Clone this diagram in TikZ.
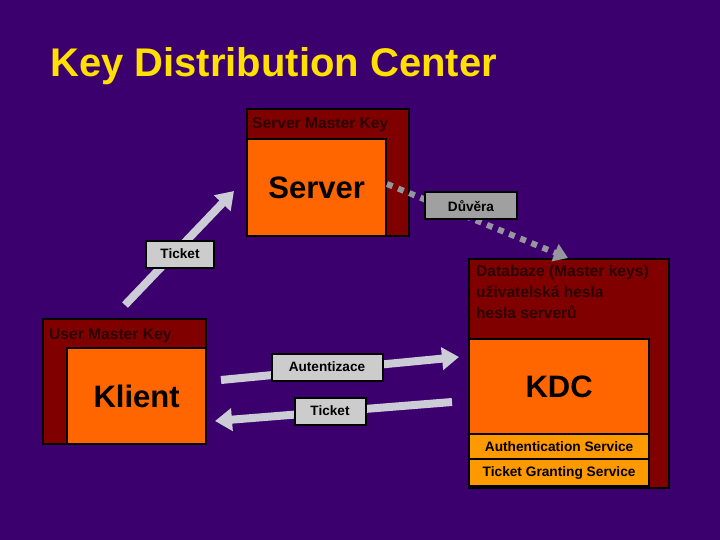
\documentclass[tikz,border=0pt]{standalone}
\usepackage{fontspec}
\setmainfont{Liberation Sans}
\usetikzlibrary{arrows.meta}
\definecolor{bgpurple}{RGB}{60,0,110}
\definecolor{keyred}{RGB}{128,0,0}
\definecolor{boxorange}{RGB}{255,102,0}
\definecolor{svcorange}{RGB}{255,153,0}
\definecolor{titleyellow}{RGB}{255,224,0}
\definecolor{keytext}{RGB}{45,0,0}
\definecolor{lightgray}{RGB}{204,204,204}
\definecolor{midgray}{RGB}{160,160,160}
\definecolor{arrowgray}{RGB}{204,204,214}
\definecolor{dotgray}{RGB}{150,150,158}
\tikzset{
  keybox/.style={draw=black, line width=2.2pt, fill=keyred, anchor=north west, inner sep=0pt},
  corebox/.style={draw=black, line width=2.2pt, fill=boxorange, anchor=north west, inner sep=0pt, font=\fontsize{31}{36}\selectfont\bfseries},
  svcbox/.style={draw=black, line width=2.2pt, fill=svcorange, anchor=north west, inner sep=0pt, font=\fontsize{13.7}{16}\selectfont\bfseries},
  keylabel/.style={anchor=base west, inner sep=0pt, text=keytext, font=\fontsize{15.6}{21}\selectfont\bfseries},
  msglabel/.style={draw=black, line width=2pt, fill=lightgray, inner sep=0pt, minimum height=27pt, font=\fontsize{13.6}{16}\selectfont\bfseries},
  trustlabel/.style={msglabel, fill=midgray},
  msgarrow/.style={draw=arrowgray, line width=8pt, -{Triangle[length=17pt,width=22pt]}},
  trustarrow/.style={draw=dotgray, line width=6pt, dash pattern=on 6pt off 6pt, -{Triangle[length=14pt,width=18pt]}}
}
\begin{document}
\begin{tikzpicture}[x=1pt,y=-1pt]
\useasboundingbox (0,0) rectangle (720,540);
\fill[bgpurple] (0,0) rectangle (720,540);

% title
\node[anchor=base west, inner sep=0pt, text=titleyellow, font=\fontsize{40}{46}\selectfont\bfseries] (title) at (50,77) {Key Distribution Center};

% server
\node[keybox, minimum width=162pt, minimum height=127pt] (srvkey) at (246,108) {};
\node[keylabel] (srvkeytxt) at (252,129) {Server Master Key};
\node[corebox, minimum width=139pt, minimum height=97pt] (server) at (246,138) {Server};

% client
\node[keybox, minimum width=163pt, minimum height=125pt] (clikey) at (42,318) {};
\node[keylabel] (clikeytxt) at (49,339) {User Master Key};
\node[corebox, minimum width=139pt, minimum height=96pt] (client) at (66,347) {Klient};

% KDC
\node[keybox, minimum width=200pt, minimum height=229pt] (kdckey) at (468,258) {};
\node[keylabel, align=left, anchor=north west] (kdctxt) at (476,265) {Databaze (Master keys)\\u\v{z}ivatelsk\'a hesla\\hesla server\r{u}};
\node[corebox, minimum width=180pt, minimum height=95pt] (kdc) at (468,338) {KDC};
\node[svcbox, minimum width=180pt, minimum height=25pt] (as) at (468,433) {Authentication Service};
\node[svcbox, minimum width=180pt, minimum height=27pt] (tgs) at (468,458) {Ticket Granting Service};

% connector end points
\coordinate (tkA) at (125,305);
\coordinate (tkB) at (234,191);
\coordinate (auA) at (221,380);
\coordinate (auB) at (459,357);
\coordinate (tbA) at (452,402);
\coordinate (tbB) at (215,421);
\coordinate (trA) at (387,184);
\coordinate (trB) at (568,258);

% trust (dotted)
\draw[trustarrow] (trA) -- (trB);
\node[trustlabel, minimum width=92pt] (trust) at (471,206) {Důvěra};

% ticket from client to server
\draw[msgarrow] (tkA) -- (tkB);
\node[msglabel, minimum width=68pt] (ticket1) at (180,254) {Ticket};

% authentication
\draw[msgarrow] (auA) -- (auB);
\node[msglabel, minimum width=111pt] (auth) at (327,367) {Autentizace};

% ticket back
\draw[msgarrow] (tbA) -- (tbB);
\node[msglabel, minimum width=71pt] (ticket2) at (330,411) {Ticket};
\end{tikzpicture}
\end{document}
